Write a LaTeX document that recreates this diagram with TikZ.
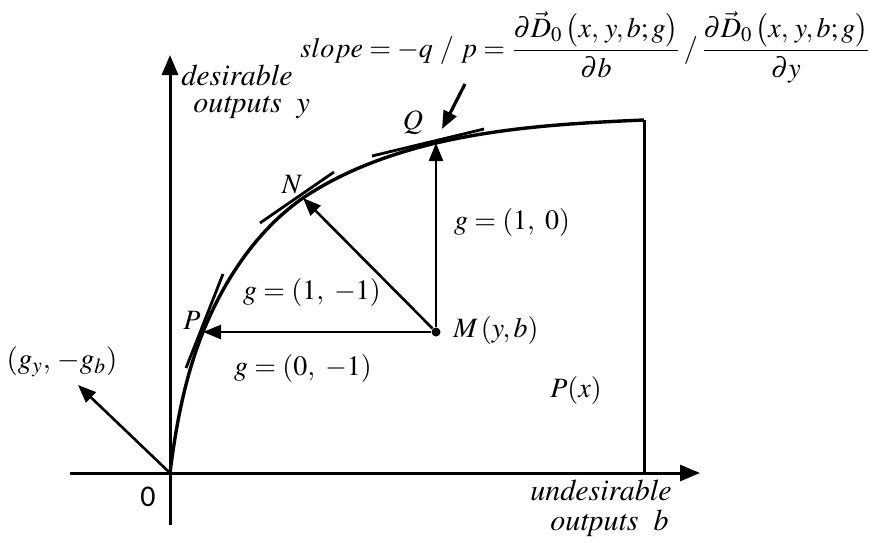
\documentclass[tikz,border=0pt]{standalone}
\usepackage{amsmath}
\usepackage{mathptmx}
\usepackage[no-math]{fontspec}
\setmainfont{Liberation Serif}
\newfontfamily\zerofont{Carlito}
\usetikzlibrary{arrows.meta}
\tikzset{
  axis/.style={line width=1.5pt},
  curvestyle/.style={line width=1.7pt},
  tang/.style={line width=1.4pt},
  vecarrow/.style={line width=1.3pt,-{Triangle[length=9pt,width=7pt]}},
  axarrow/.style={line width=1.5pt,-{Triangle[length=10pt,width=8pt]}},
  lbl/.style={inner sep=0pt,font=\fontsize{14}{16}\selectfont},
  axlbl/.style={inner sep=0pt,font=\fontsize{15}{17}\selectfont},
}
\begin{document}
\begin{tikzpicture}[x=0.5pt,y=-0.5pt]
\useasboundingbox (0,0) rectangle (872,542);
% key points
\coordinate (O) at (170,473);
\coordinate (xs) at (70,473);
\coordinate (xe) at (700,473);
\coordinate (yb) at (170,525);
\coordinate (yt) at (170,55);
\coordinate (E) at (644,120);
\coordinate (Eb) at (644,473);
\coordinate (P) at (203,332);
\coordinate (N) at (303,198);
\coordinate (Q) at (436,143);
\coordinate (G) at (78,385);
\node[circle,fill,inner sep=0pt,minimum size=4.5pt] (M) at (436,332) {};
% axes
\draw[axis] (xs) -- (O);
\draw[axarrow] (O) -- (xe);
\draw[axis] (yb) -- (O);
\draw[axarrow] (O) -- (yt);
% frontier
\draw[curvestyle] (O) .. controls (176,425) and (185,377) .. (P)
  .. controls (224,280) and (257,230) .. (N)
  .. controls (343,171) and (390,154) .. (Q)
  .. controls (505,127) and (574,123) .. (E);
\draw[axis] (E) -- (Eb);
% tangents (slightly offset from the curve)
\coordinate (tp1) at (186,368); \coordinate (tp2) at (223,274);
\coordinate (tn1) at (260,223); \coordinate (tn2) at (334,172);
\coordinate (tq1) at (372,156); \coordinate (tq2) at (484,129);
\draw[tang] (tp1) -- (tp2);
\draw[tang] (tn1) -- (tn2);
\draw[tang] (tq1) -- (tq2);
% direction arrows
\draw[vecarrow] (M) -- (P);
\draw[vecarrow] (M) -- (N);
\draw[vecarrow] (M) -- (Q);
\draw[vecarrow] (O) -- (G);
% slope arrow
\coordinate (s1) at (465,84);
\coordinate (s2) at (442,129);
\draw[vecarrow,line width=1.6pt] (s1) -- (s2);
% labels
\node[axlbl,anchor=west] (dl1) at (181,75) {$\mathit{desirable}$};
\node[axlbl,anchor=west] (dl2) at (193,107) {$\mathit{outputs}\ \ y$};
\node[axlbl,anchor=east] (ul1) at (672,490) {$\mathit{undesirable}$};
\node[axlbl,anchor=east] (ul2) at (669,523) {$\mathit{outputs}\ \ b$};
\node[inner sep=0pt,font=\zerofont\fontsize{15}{17}\selectfont] (zero) at (148,497) {0};
\node[lbl,font=\fontsize{14.5}{16}\selectfont] (gv) at (62,362) {$(g_y,\,{-}g_b)$};
\node[lbl] (Pl) at (192,320) {$P$};
\node[lbl] (Nl) at (292,185) {$N$};
\node[lbl] (Ql) at (413,123) {$Q$};
\node[lbl,anchor=west] (Ml) at (453,330) {$M\,(y,b)$};
\node[lbl] (g10) at (512,222) {$g=(1,\ 0)$};
\node[lbl] (g11) at (312,292) {$g=(1,\ -1)$};
\node[lbl] (g01) at (303,368) {$g=(0,\ -1)$};
\node[lbl] (Px) at (576,390) {$P(x)$};
\node[lbl,font=\fontsize{14}{16}\selectfont,anchor=west] (slope) at (300,47)
  {$slope=-q\ /\ p=\dfrac{\partial\vec{D}_0\,\bigl(x,\,y,b;g\bigr)}{\partial b}\,/\,\dfrac{\partial\vec{D}_0\,\bigl(x,\,y,b;g\bigr)}{\partial y}$};
\end{tikzpicture}
\end{document}
